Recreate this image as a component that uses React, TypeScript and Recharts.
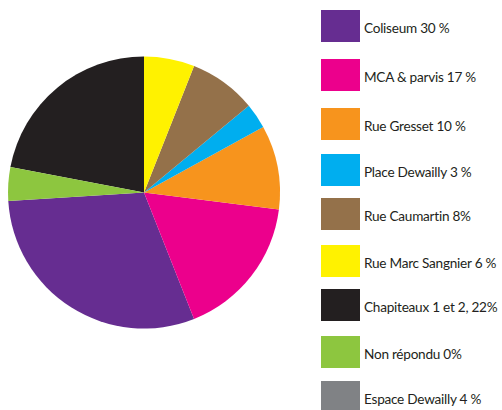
import React from "react";
import { PieChart, Pie, Cell } from "recharts";

// Legend labels (as printed in the reference)
const legendLabels = [
  "Coliseum 30 %",
  "MCA & parvis 17 %",
  "Rue Gresset 10 %",
  "Place Dewailly 3 %",
  "Rue Caumartin 8%",
  "Rue Marc Sangnier 6 %",
  "Chapiteaux 1 et 2, 22%",
  "Non répondu 0%",
  "Espace Dewailly 4 %",
];

// Slice sizes as drawn in the pie (percent)
const sliceValues = [30, 17, 10, 3, 8, 6, 22, 4, 0];

const colors = [
  "#662d91",
  "#ec008c",
  "#f7941d",
  "#00aeef",
  "#94714a",
  "#fff200",
  "#231f20",
  "#8dc63f",
  "#808285",
];

// layout only: top offsets of legend rows
const legendRowTops = [10, 59, 108, 154, 198, 245, 289, 336, 381];

const data = legendLabels.map((name, i) => ({
  name,
  value: sliceValues[i],
  color: colors[i],
}));

const LegendBlock = () => (
  <div style={{ position: "absolute", left: 321, top: 0, width: 181, height: 410 }}>
    {data.map((d, i) => (
      <div
        key={d.name}
        style={{
          position: "absolute",
          left: 0,
          top: legendRowTops[i],
          height: 32,
          display: "flex",
          alignItems: "center",
          whiteSpace: "nowrap",
        }}
      >
        <div style={{ width: 39, height: 32, background: d.color, flex: "none" }} />
        <span
          style={{
            marginLeft: 4,
            fontFamily: "Lato, 'Open Sans', sans-serif",
            fontSize: 13.6,
            letterSpacing: -0.25,
            color: "#231f20",
            paddingTop: 3,
          }}
        >
          {d.name}
        </span>
      </div>
    ))}
  </div>
);

export default function App() {
  return (
    <div
      style={{
        position: "relative",
        width: 502,
        height: 410,
        background: "#ffffff",
        overflow: "hidden",
      }}
    >
      <style>{"body{margin:0}"}</style>
      <PieChart width={310} height={410} margin={{ top: 0, right: 0, bottom: 0, left: 0 }}>
        <Pie
          data={data}
          dataKey="value"
          nameKey="name"
          cx={144}
          cy={192.5}
          outerRadius={136}
          innerRadius={0}
          startAngle={183.6}
          endAngle={543.6}
          stroke="none"
          isAnimationActive={false}
        >
          {data.map((d) => (
            <Cell key={d.name} fill={d.color} />
          ))}
        </Pie>
      </PieChart>
      <LegendBlock />
    </div>
  );
}
